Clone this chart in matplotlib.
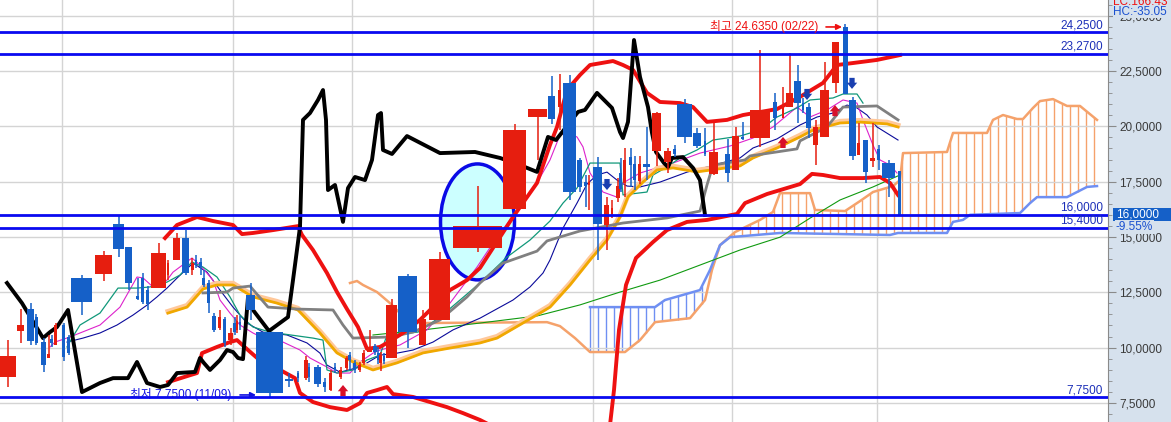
import matplotlib
matplotlib.use('Agg')
import matplotlib.pyplot as plt
import matplotlib.patheffects as pe
from matplotlib.patches import Ellipse, Rectangle
from matplotlib.ticker import MultipleLocator, FuncFormatter
import numpy as np

plt.rcParams['font.family'] = ['Liberation Sans', 'Noto Sans CJK KR', 'DejaVu Sans']

# ---- candles (x position, volume-scaled width, O/H/L/C) ----
cx = [0.8, 2.05, 3.05, 3.6, 4.35, 4.85, 5.15, 5.6, 6.35, 6.85, 8.15, 10.35, 11.85, 12.85, 13.75,
      14.25, 14.75, 15.85, 16.8, 17.65, 18.55, 19.2, 19.6, 20.05, 20.35, 20.85, 21.4, 21.95, 22.45,
      23.05, 23.45, 23.7, 24.0, 25.05, 26.95, 28.9, 29.8, 30.6, 30.9, 31.75, 32.45, 33.05, 33.5,
      34.05, 34.65, 34.95, 35.45, 35.95, 36.35, 36.95, 37.45, 37.8, 38.05, 38.4, 39.15, 40.75, 42.25,
      43.95, 47.75, 51.45, 53.75, 55.15, 55.95, 56.95, 57.95, 58.55, 58.9, 59.75, 60.65, 61.2, 61.8,
      62.05, 62.45, 63.05, 63.45, 63.95, 64.65, 65.65, 66.75, 67.45, 68.45, 69.7, 70.5, 71.35, 72.75,
      73.55, 74.25, 76.0, 77.5, 78.3, 78.95, 79.75, 80.3, 80.85, 81.55, 82.45, 83.55, 84.5, 85.25,
      85.85, 86.55, 87.25, 87.85, 88.85, 89.9]
cw = [1.6, 0.7, 0.7, 0.3, 0.5, 0.3, 0.3, 0.3, 0.3, 0.3, 2.1, 1.7, 1.1, 0.7, 0.3,
      0.3, 0.3, 1.5, 0.2, 0.7, 0.7, 0.3, 0.2, 0.3, 0.3, 0.3, 0.4, 0.3, 0.3,
      0.5, 0.3, 0.2, 0.2, 0.9, 2.7, 0.8, 0.2, 0.4, 0.2, 0.7, 0.3, 0.3, 0.2,
      0.3, 0.3, 0.3, 0.3, 0.3, 0.3, 0.5, 0.4, 0.3, 0.3, 0.2, 1.1, 1.9, 0.7,
      2.1, 4.9, 2.3, 1.9, 0.7, 0.3, 1.3, 0.5, 0.3, 0.2, 0.9, 0.5, 0.2, 0.4,
      0.3, 0.3, 0.3, 0.3, 0.3, 0.7, 0.9, 0.7, 0.3, 1.5, 0.8, 0.2, 0.9, 0.5,
      0.7, 0.3, 2.0, 0.4, 0.2, 0.7, 0.7, 0.2, 0.5, 0.5, 0.9, 0.7, 0.5, 0.7,
      0.3, 0.5, 0.5, 0.3, 1.3, 0.3]
op = [8.67, 10.75, 11.75, 11.38, 10.25, 9.53, 10.39, 10.12, 11.02, 10.48, 13.15, 13.33, 15.59, 14.55, 12.33,
      13.15, 12.60, 12.70, 13.28, 13.96, 14.95, 13.51, 13.96, 13.87, 13.15, 12.92, 11.43, 10.89, 11.29,
      10.35, 11.11, 10.80, 11.16, 12.38, 10.71, 8.58, 8.85, 8.63, 9.13, 9.13, 8.45, 8.09, 9.13,
      8.67, 9.08, 9.67, 9.31, 8.99, 9.31, 9.80, 10.07, 9.76, 9.31, 9.62, 9.53, 13.24, 10.12,
      11.25, 14.50, 16.26, 20.42, 21.37, 20.87, 21.96, 18.48, 17.49, 17.35, 18.16, 15.54, 16.04, 16.76,
      17.89, 17.44, 18.62, 18.30, 17.53, 18.30, 18.89, 18.39, 18.98, 21.01, 19.70, 19.34, 17.85, 18.75,
      18.03, 19.52, 19.47, 21.10, 20.38, 20.87, 22.05, 21.05, 20.87, 19.16, 19.52, 21.96, 24.49, 21.19,
      18.71, 19.38, 18.43, 18.98, 18.34, 17.98]
hi = [10.35, 11.75, 12.02, 11.52, 10.44, 10.57, 10.57, 11.11, 11.11, 10.57, 13.28, 14.37, 15.95, 14.55, 13.15,
      13.37, 12.79, 14.73, 13.96, 15.18, 15.32, 14.05, 14.19, 14.05, 13.51, 13.06, 11.57, 11.70, 11.38,
      10.89, 11.38, 11.48, 11.43, 12.92, 10.71, 8.85, 8.94, 9.62, 9.31, 9.22, 8.63, 8.99, 9.31,
      9.13, 9.62, 9.80, 9.44, 9.35, 9.89, 10.80, 10.16, 10.03, 9.80, 9.76, 12.20, 13.33, 11.70,
      14.32, 17.30, 20.11, 20.78, 22.27, 22.36, 22.32, 18.57, 17.80, 17.80, 18.62, 16.81, 16.67, 17.67,
      18.57, 19.02, 19.02, 18.66, 18.66, 19.97, 20.65, 19.02, 19.16, 21.24, 19.92, 19.92, 20.15, 19.43,
      19.97, 20.19, 23.45, 21.51, 21.78, 23.31, 22.77, 21.28, 21.05, 20.29, 22.91, 23.81, 24.635, 21.33,
      20.15, 19.38, 20.15, 19.16, 18.48, 17.98]
lo = [8.22, 10.21, 10.12, 10.12, 8.90, 9.53, 10.03, 10.12, 9.40, 9.67, 11.48, 13.01, 14.10, 12.60, 12.15,
      11.97, 11.70, 12.70, 13.06, 13.96, 13.28, 13.28, 13.60, 13.28, 12.74, 11.57, 10.71, 10.80, 10.03,
      10.12, 10.57, 10.66, 10.80, 11.25, 7.75, 8.22, 8.45, 8.54, 8.45, 8.22, 8.00, 8.04, 8.85,
      8.58, 8.99, 8.99, 8.85, 8.90, 9.22, 9.80, 9.67, 9.26, 8.94, 9.26, 9.53, 9.98, 10.12,
      11.25, 14.32, 16.26, 18.48, 20.11, 19.83, 16.67, 17.03, 16.35, 16.22, 13.96, 14.41, 15.86, 16.58,
      17.03, 16.81, 17.26, 17.12, 17.39, 17.58, 18.21, 17.89, 18.62, 19.25, 19.02, 18.66, 17.80, 17.49,
      18.03, 19.38, 19.07, 19.83, 20.38, 20.87, 20.15, 20.60, 19.47, 18.25, 19.52, 21.51, 21.46, 18.48,
      18.71, 17.44, 18.16, 18.03, 16.81, 16.00]
cl = [9.62, 11.02, 10.30, 10.21, 9.22, 9.71, 10.21, 11.02, 9.58, 9.76, 12.06, 14.19, 14.46, 12.92, 12.20,
      12.06, 11.97, 14.28, 13.82, 14.95, 13.37, 13.82, 13.73, 13.64, 12.83, 12.02, 10.80, 11.38, 10.21,
      10.66, 10.71, 11.20, 11.02, 11.70, 7.95, 8.49, 8.63, 9.44, 8.67, 8.36, 8.22, 8.85, 8.99,
      8.99, 9.53, 9.44, 8.99, 9.22, 9.76, 10.03, 9.80, 9.44, 9.67, 9.40, 11.93, 10.71, 11.29,
      14.01, 15.50, 19.83, 20.78, 20.33, 21.64, 17.03, 17.26, 17.30, 17.49, 15.59, 16.44, 16.31, 17.30,
      17.17, 18.48, 18.25, 17.58, 18.30, 18.16, 20.60, 18.89, 18.75, 19.52, 19.11, 18.75, 18.84, 17.89,
      19.56, 19.43, 20.74, 20.38, 20.96, 21.51, 21.05, 20.74, 19.92, 19.97, 21.64, 23.81, 21.46, 18.66,
      19.25, 17.94, 18.57, 18.48, 17.67, 16.00]

# ---- overlay lines (x, price) ----
lagging = [(0.7, 12.92), (2.2, 12.01), (4.3, 10.43), (5.0, 10.70), (5.7, 10.93), (6.8, 11.70), (8.2, 7.99),
           (10.0, 8.40), (11.3, 8.62), (12.8, 8.62), (13.7, 9.35), (14.7, 8.40), (16.0, 8.22), (16.8, 8.31),
           (17.7, 8.85), (19.5, 8.90), (20.0, 9.53), (20.4, 9.30), (21.0, 8.99), (22.0, 9.44), (22.7, 9.89),
           (23.3, 9.80), (23.8, 9.53), (24.3, 9.48), (24.8, 12.29), (25.3, 11.70), (26.9, 10.75), (28.8, 11.38),
           (29.3, 13.05), (30.0, 15.45), (30.3, 20.29), (31.0, 20.60), (31.8, 21.19), (32.3, 21.64), (32.6, 20.29),
           (32.8, 17.12), (33.5, 17.35), (34.3, 15.68), (34.8, 17.21), (35.5, 17.71), (36.5, 17.57), (37.2, 18.48),
           (37.8, 20.51), (38.1, 20.60), (38.3, 18.93), (39.2, 18.75), (40.7, 19.56), (44.0, 18.79), (47.5, 18.84),
           (50.0, 18.57), (52.0, 18.25), (53.7, 17.94), (54.8, 19.52), (55.6, 19.38), (57.8, 20.65), (58.5, 20.74),
           (59.7, 21.51), (61.2, 20.83), (62.0, 19.74), (62.3, 19.47), (62.8, 20.20), (63.4, 23.90), (64.0, 22.23),
           (64.8, 20.87), (65.2, 19.70), (65.6, 18.84), (66.4, 18.34), (66.8, 18.16), (67.2, 18.57), (68.3, 18.61),
           (69.3, 18.12), (70.0, 17.57), (70.5, 16.00)]
bb_upper = [(16.5, 14.95), (17.7, 15.54), (19.7, 15.90), (21.3, 15.72), (23.3, 15.54), (24.2, 15.13), (25.3, 15.18),
            (27.3, 15.31), (29.8, 15.49), (30.2, 15.09), (31.3, 14.41), (32.7, 13.37), (33.7, 12.51), (34.7, 11.74),
            (35.8, 10.93), (36.7, 9.94), (38.0, 10.03), (38.7, 10.21), (40.3, 10.66), (42.0, 11.25), (43.7, 12.01),
            (45.0, 12.60), (46.7, 13.05), (48.0, 13.60), (51.3, 15.90), (53.7, 17.44), (55.0, 19.16), (55.7, 19.97),
            (56.7, 21.64), (58.0, 22.32), (59.0, 22.77), (61.3, 22.95), (62.3, 22.77), (63.3, 22.55), (64.7, 21.51),
            (66.0, 21.10), (68.0, 21.05), (69.3, 20.87), (70.7, 20.20), (72.7, 20.29), (74.3, 20.51), (77.7, 20.78),
            (80.0, 21.33), (82.3, 21.96), (83.7, 22.77), (85.3, 22.86), (87.7, 23.00), (90.0, 23.22)]
bb_lower_1 = [(16.8, 8.44), (18.7, 8.71), (19.7, 8.85), (20.2, 9.75), (21.7, 10.03), (23.0, 10.25), (23.7, 10.34),
              (24.8, 9.89), (26.3, 9.30), (28.0, 8.99), (29.5, 8.62), (30.0, 7.95), (31.3, 7.54), (33.0, 7.31),
              (34.7, 7.18), (36.0, 7.49), (36.7, 7.95), (37.7, 8.08), (38.7, 8.22), (39.3, 7.90), (41.3, 7.77),
              (43.0, 7.54), (44.7, 7.31), (46.3, 7.04), (48.0, 6.73), (49.0, 6.50)]
bb_lower_2 = [(61.0, 6.50), (61.4, 8.08), (61.9, 10.80), (62.6, 12.83), (63.6, 14.05), (65.3, 14.77), (66.7, 15.31),
              (68.7, 15.68), (70.7, 15.77), (73.7, 16.04), (74.5, 16.53), (76.7, 16.94), (80.0, 17.39), (81.2, 17.85),
              (82.3, 17.80), (84.0, 17.66), (86.3, 17.66), (88.0, 17.71), (89.0, 17.44), (89.8, 16.90)]
base_line = [(20.3, 12.47), (22.7, 12.51), (23.3, 12.69), (25.0, 12.78), (26.8, 11.83), (29.8, 11.74), (33.3, 11.70),
             (34.3, 11.02), (35.3, 10.43), (39.0, 10.48), (41.3, 10.70), (44.0, 11.25), (46.7, 12.29), (48.0, 12.92),
             (50.3, 13.82), (53.7, 14.36), (54.7, 14.82), (58.0, 15.27), (62.3, 15.63), (66.7, 15.86), (70.0, 16.17),
             (70.7, 17.35), (71.3, 18.25), (74.5, 18.48), (75.0, 18.66), (79.7, 18.98), (80.0, 19.34), (82.7, 19.97),
             (84.3, 20.87), (87.7, 20.92), (89.8, 20.29)]
ma60 = [(16.8, 11.56), (18.7, 11.83), (20.3, 12.65), (21.7, 12.83), (23.3, 12.83), (25.3, 12.29), (27.7, 12.01),
        (29.8, 11.70), (32.0, 10.66), (33.7, 9.76), (35.3, 9.35), (37.3, 8.99), (39.7, 9.31), (42.3, 9.76),
        (45.0, 9.98), (48.0, 10.21), (49.7, 10.43), (54.0, 11.56), (55.0, 11.83), (57.0, 12.83), (59.0, 13.96),
        (60.7, 14.86), (62.0, 15.90), (62.8, 16.81), (64.3, 17.48), (65.7, 18.03), (67.3, 18.12), (69.7, 17.94),
        (74.0, 18.21), (75.3, 18.57), (77.7, 19.02), (80.0, 19.52), (81.3, 19.83), (84.0, 20.15), (86.0, 20.19),
        (88.7, 20.11), (89.8, 19.97)]
conv_line = [(6.7, 10.03), (7.2, 10.43), (8.0, 11.02), (10.0, 11.56), (11.8, 12.69), (13.7, 12.69), (15.0, 12.74),
             (16.7, 12.96), (18.0, 13.28), (19.2, 13.87), (20.3, 13.64), (21.7, 13.19), (23.0, 12.29), (24.0, 11.47),
             (25.3, 10.93), (27.0, 10.70), (31.3, 10.43), (32.3, 10.34), (32.7, 8.99), (33.7, 8.85), (35.3, 8.99),
             (36.7, 9.44), (38.0, 9.66), (38.7, 10.57), (41.8, 10.70), (44.0, 11.38), (46.0, 12.15), (48.0, 12.92),
             (50.7, 14.09), (53.0, 14.86), (55.0, 15.72), (56.3, 16.53), (57.7, 17.21), (59.0, 18.34), (62.0, 18.34),
             (62.3, 16.90), (64.7, 17.03), (65.3, 17.80), (66.7, 18.16), (68.0, 18.57), (69.7, 18.93), (71.3, 19.38),
             (74.0, 19.56), (76.0, 19.83), (77.7, 20.42), (79.7, 20.83), (81.0, 21.19), (83.3, 21.28), (84.3, 21.46),
             (85.7, 21.46), (86.3, 21.05)]
ma5 = [(5.0, 10.03), (5.5, 10.25), (7.0, 10.48), (10.0, 11.02), (12.0, 11.83), (13.7, 13.19), (14.3, 13.15),
       (15.3, 12.74), (16.7, 13.05), (17.3, 13.41), (19.2, 14.05), (20.0, 13.73), (21.3, 13.05), (22.0, 12.15),
       (23.0, 11.56), (24.0, 11.02), (25.3, 10.66), (26.7, 10.34), (28.3, 10.25), (30.0, 9.89), (31.0, 9.53),
       (32.7, 9.12), (33.7, 8.85), (35.0, 8.85), (36.0, 9.35), (37.3, 9.75), (38.0, 9.89), (40.0, 10.12),
       (42.7, 10.80), (45.0, 12.01), (47.7, 13.64), (49.7, 14.99), (52.0, 16.35), (53.7, 17.44), (55.0, 18.48),
       (56.0, 19.61), (56.7, 19.70), (57.7, 19.52), (58.3, 19.07), (59.0, 17.89), (60.3, 17.03), (61.7, 16.80),
       (62.3, 17.44), (64.0, 17.89), (67.3, 18.34), (70.0, 18.79), (73.0, 19.11), (75.3, 19.47), (77.3, 19.97),
       (79.7, 20.87), (81.0, 20.42), (82.7, 20.74), (84.3, 21.19), (85.7, 21.05), (86.3, 20.29), (87.3, 19.15),
       (88.0, 18.48), (89.0, 18.25), (89.7, 17.89)]
ma20 = [(6.7, 10.25), (8.3, 10.43), (10.0, 10.66), (11.7, 11.02), (13.3, 11.47), (14.7, 11.92), (15.7, 12.29),
        (16.7, 12.69), (17.7, 13.14), (19.3, 13.82), (20.7, 13.41), (22.0, 12.60), (23.3, 11.83), (24.7, 11.11),
        (26.3, 10.70), (28.7, 10.57), (30.7, 10.21), (32.0, 9.75), (32.7, 9.21), (34.0, 8.89), (36.0, 9.12),
        (38.0, 9.66), (39.7, 9.75), (41.3, 9.89), (43.3, 10.25), (45.3, 10.80), (48.0, 11.33), (51.3, 12.15),
        (53.0, 12.74), (54.3, 13.37), (55.0, 13.96), (56.3, 15.40), (57.7, 16.53), (58.7, 17.39), (59.7, 17.80),
        (60.7, 17.93), (61.7, 17.57), (62.7, 17.30), (64.0, 17.26), (66.0, 17.48), (68.7, 17.93), (70.7, 18.16),
        (74.0, 18.57), (75.3, 19.02), (77.7, 19.43), (80.0, 20.06), (81.7, 20.42), (83.3, 20.60), (84.7, 20.96),
        (85.7, 20.83), (86.7, 20.51), (87.7, 19.97), (89.8, 19.38)]
ma120 = [(37.3, 10.57), (42.3, 10.80), (48.0, 11.11), (53.7, 11.43), (58.0, 11.93), (62.0, 12.51), (66.0, 13.05),
         (70.0, 13.73), (74.0, 14.41), (78.0, 14.99), (81.0, 15.85), (84.0, 16.67), (87.3, 17.26), (90.0, 17.80)]
span_a = [(35.0, 12.92), (35.7, 13.01), (36.3, 12.83), (37.7, 12.51), (39.0, 12.01), (40.5, 11.33), (42.3, 11.11),
          (54.7, 11.15), (56.0, 10.97), (57.5, 10.43), (59.0, 9.80), (62.5, 9.80), (64.0, 10.34), (65.5, 11.15),
          (69.0, 11.33), (70.5, 12.15), (71.2, 13.51), (72.0, 14.63), (73.5, 15.22), (76.0, 15.77), (77.3, 16.13),
          (78.0, 16.98), (81.0, 16.98), (81.5, 16.22), (84.5, 16.17), (86.0, 16.62), (87.3, 17.03), (89.3, 17.30),
          (90.0, 17.57), (90.3, 18.79), (94.7, 18.84), (95.3, 19.70), (98.7, 19.70), (99.3, 20.29), (100.3, 20.51),
          (101.7, 20.33), (102.3, 20.33), (103.3, 20.83), (104.0, 21.14), (105.3, 21.23), (106.7, 20.92),
          (108.0, 20.92), (109.7, 20.29)]
span_b = [(59.0, 11.83), (65.5, 11.83), (66.5, 12.15), (70.0, 12.60), (71.0, 13.51), (72.0, 14.63), (73.0, 14.99),
          (78.0, 15.18), (89.0, 15.09), (89.8, 15.18), (94.7, 15.18), (95.3, 15.68), (96.3, 15.77), (97.0, 16.00),
          (102.0, 16.08), (103.0, 16.53), (103.7, 16.80), (106.7, 16.80), (108.7, 17.26), (109.7, 17.30)]

levels = [24.25, 23.27, 16.0, 15.4, 7.75]
month_breaks = [6.2, 23.3, 35.2, 59.3, 73.2, 87.7]
buy_x, buy_y = [34.3, 78.3, 83.5], [8.31, 19.52, 20.96]
sell_x, sell_y = [60.7, 80.7, 85.2], [17.12, 21.19, 21.69]
high_price, high_date = 24.635, '02/22'
low_price, low_date = 7.75, '11/09'
last_price, last_chg = 16.0, -9.55

UP, DN = '#e61e0f', '#1560c8'
BG = '#d6e1ed'


def fmt(v, p=None):
    return f'{v:.4f}'.replace('.', ',')


fig = plt.figure(figsize=(11.71, 4.22), dpi=100)
fig.patch.set_facecolor(BG)
ax = fig.add_axes([0, 0, 1108 / 1171, 1])
ax.set_facecolor('white')
ax.set_xlim(0, 110.8)
ax.set_ylim(6.638, 25.708)

# grid
ax.yaxis.set_major_locator(MultipleLocator(2.5))
ax.yaxis.set_minor_locator(MultipleLocator(0.5))
ax.yaxis.set_major_formatter(FuncFormatter(fmt))
ax.grid(axis='y', color='#d4d4d4', lw=1, zorder=0)
for m in month_breaks:
    ax.axvline(m, color='#d4d4d4', lw=1, zorder=0)
ax.set_xticks([])
ax.yaxis.tick_right()
ax.tick_params(axis='y', which='major', direction='out', length=6, color='#8a8a8a',
               labelsize=8.5, labelcolor='#3a3a3a', pad=2)
ax.tick_params(axis='y', which='minor', direction='out', length=3, color='#8a8a8a')
for s in ['top', 'left', 'bottom']:
    ax.spines[s].set_visible(False)
ax.spines['right'].set_color('#8a8a8a')

# cloud
ax_a = np.array(span_a)
ax_b = np.array(span_b)
hx = np.arange(span_b[0][0], span_b[-1][0] + 0.01, 0.8)
ya = np.interp(hx, ax_a[:, 0], ax_a[:, 1])
yb = np.interp(hx, ax_b[:, 0], ax_b[:, 1])
hcol = ['#f5a26b' if a >= b else '#6f8ff2' for a, b in zip(ya, yb)]
ax.vlines(hx, np.minimum(ya, yb), np.maximum(ya, yb), colors=hcol, lw=1, zorder=1.5)
ax.plot(ax_a[:, 0], ax_a[:, 1], color='#f5a26b', lw=1.8, zorder=1.6)
ax.plot(ax_b[:, 0], ax_b[:, 1], color='#6f8ff2', lw=1.8, zorder=1.6)

# highlight ellipse
ax.add_patch(Ellipse((47.75, 15.68), 7.4, 5.24, facecolor='#ccffff', edgecolor='#0a0ae6',
                     lw=2.5, zorder=1.8))

# moving averages and bands
def draw(pts, **kw):
    a = np.array(pts)
    ax.plot(a[:, 0], a[:, 1], **kw)

draw(ma120, color='#109a10', lw=0.8, zorder=2)
draw(ma20, color='#0a0a9a', lw=0.8, zorder=2)
draw(ma5, color='#dd22cc', lw=0.8, zorder=2)
draw(conv_line, color='#10987a', lw=0.9, zorder=2)
draw(ma60, color='#f0a800', lw=2, zorder=2.5,
     path_effects=[pe.Stroke(linewidth=3.6, foreground='#ffc89a', offset=(0, 1.2)), pe.Normal()])
draw(base_line, color='#808080', lw=2, zorder=2.5)
draw(bb_upper, color='#ee1111', lw=2.8, zorder=3)
draw(bb_lower_1, color='#ee1111', lw=2.8, zorder=3)
draw(bb_lower_2, color='#ee1111', lw=2.8, zorder=3)
draw(lagging, color='black', lw=2.8, zorder=3)

# candles
op_a, cl_a = np.array(op), np.array(cl)
cols = [UP if c >= o else DN for o, c in zip(op, cl)]
ax.vlines(cx, lo, hi, colors=cols, lw=1.1, zorder=5)
ax.bar(cx, np.maximum(np.abs(cl_a - op_a), 0.06), width=cw, bottom=np.minimum(op_a, cl_a),
       color=cols, linewidth=0, zorder=5)

# signal arrows
astyle = 'simple,head_length=0.45,head_width=0.75,tail_width=0.38'
for x, y in zip(buy_x, buy_y):
    ax.annotate('', xy=(x, y), xytext=(x, y - 0.5),
                arrowprops=dict(arrowstyle=astyle, mutation_scale=10, color='#d8102a', lw=0,
                                shrinkA=0, shrinkB=0), zorder=6)
for x, y in zip(sell_x, sell_y):
    ax.annotate('', xy=(x, y), xytext=(x, y + 0.5),
                arrowprops=dict(arrowstyle=astyle, mutation_scale=10, color='#1a3fb0', lw=0,
                                shrinkA=0, shrinkB=0), zorder=6)

# horizontal price levels
for lv in levels:
    ax.axhline(lv, color='#0a0af0', lw=2, zorder=6)
    ax.text(110.3, lv + 0.05, fmt(lv), ha='right', va='bottom', fontsize=8.5,
            color='#1c2fb8', zorder=7)

# high / low markers
ax.text(71.0, 24.49, f'최고 {high_price:.4f} ({high_date})', color='#ee1111', fontsize=8.5,
        va='center', ha='left', zorder=7)
ax.annotate('', xy=(84.2, 24.49), xytext=(82.6, 24.49),
            arrowprops=dict(arrowstyle='-|>', color='#ee1111', lw=1.2, mutation_scale=8,
                            shrinkA=0, shrinkB=0), zorder=7)
ax.text(13.0, 7.9, f'최저 {low_price:.4f} ({low_date})', color='#1010e0', fontsize=8.5,
        va='center', ha='left', zorder=7)
ax.annotate('', xy=(25.6, 7.86), xytext=(24.0, 7.86),
            arrowprops=dict(arrowstyle='-|>', color='#1010e0', lw=1.2, mutation_scale=8,
                            shrinkA=0, shrinkB=0), zorder=7)

# right panel labels
fig.text(1113 / 1171, 1 - 2 / 422, 'LC:166.43', color='#ee1111', fontsize=8.5, va='center')
fig.text(1113 / 1171, 1 - 12 / 422, 'HC:-35.05', color='#1a50d0', fontsize=8.5, va='center',
         bbox=dict(facecolor=BG, edgecolor='none', pad=0.3))
fig.patches.append(Rectangle((1113 / 1171, 1 - 221 / 422), 58 / 1171, 13 / 422,
                             transform=fig.transFigure, facecolor='#1560c8', edgecolor='none'))
fig.text(1116 / 1171, 1 - 214.5 / 422, fmt(last_price), color='white', fontsize=8.5, va='center')
fig.text(1116 / 1171, 1 - 227 / 422, f'{last_chg:.2f}%', color='#1a50d0', fontsize=8.5,
         va='center', bbox=dict(facecolor=BG, edgecolor='none', pad=0.5))

fig.savefig('out.png', dpi=100, facecolor=fig.get_facecolor())
